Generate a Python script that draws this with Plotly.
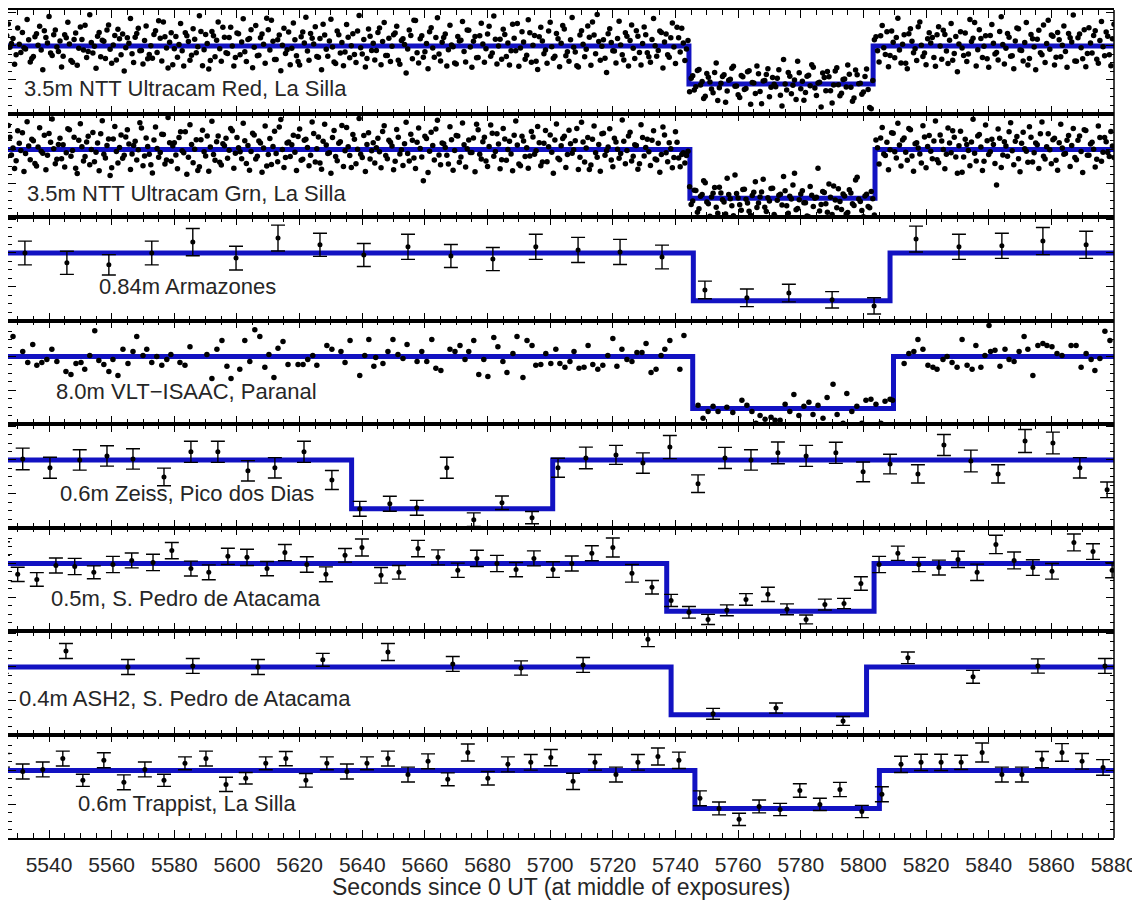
import plotly.graph_objects as go
from plotly.subplots import make_subplots

# ---------------- axis extent (seconds since 0 UT) ----------------
X_MIN, X_MAX = 5526.9, 5880.0
Y_MIN, Y_MAX = -0.99, 2.06

# ---------------- panel labels and occultation models ----------------
PANEL_LABELS = [
    "3.5m NTT Ultracam Red, La Silla",
    "3.5m NTT Ultracam Grn, La Silla",
    "0.84m Armazones",
    "8.0m VLT\u2212ISAAC, Paranal",
    "0.6m Zeiss, Pico dos Dias",
    "0.5m, S. Pedro de Atacama",
    "0.4m ASH2, S. Pedro de Atacama",
    "0.6m Trappist, La Silla",
]
DROP_TIMES = [5744.3, 5744.6, 5745.7, 5745.5, 5636.6, 5737.2, 5738.6, 5746.2]
RISE_TIMES = [5803.1, 5803.7, 5808.5, 5809.6, 5700.8, 5803.4, 5801.0, 5805.1]
BASE_LEVEL = [1.0, 1.0, 1.0, 1.0, 1.0, 1.0, 1.0, 1.0]
LOW_LEVELS = [-0.12, -0.44, -0.41, -0.53, -0.44, -0.41, -0.41, -0.12]

# ---------------- Ultracam: two interleaved readouts, 1.0 s apart each ----------------
UC_T0_A = 5524.5
UC_T0_B = 5525.0
UC_CADENCE = 1.0
ucam_red_flux_a = [
    1.12, 0.85, 1.31, 0.96, 1.22, 0.74, 1.05, 1.40, 0.91, 1.18, 0.63, 1.27, 1.02, 0.88, 1.45, 1.09, 0.79, 1.33, 0.97, 1.15,
    0.70, 1.24, 1.06, 0.52, 1.38, 0.93, 1.19, 1.61, 0.84, 1.10, 0.99, 1.29, 0.68, 1.14, 1.47, 0.90, 1.03, 0.59, 1.21, 1.35,
    0.95, 1.08, 0.77, 1.26, 1.52, 0.87, 1.16, 0.62, 1.01, 1.34, 0.81, 1.23, 1.71, 0.94, 1.11, 0.45, 1.28, 1.04, 0.86, 1.39,
    1.13, 0.73, 1.20, 0.98, 1.43, 0.89, 1.07, 0.57, 1.30, 1.17, 0.92, 1.55, 0.80, 1.25, 1.00, 0.66, 1.36, 1.12, 0.83, 1.19,
    1.48, 0.96, 0.71, 1.24, 1.05, 1.82, 0.88, 1.14, 0.60, 1.32, 1.02, 0.78, 1.41, 0.93, 1.18, 0.54, 1.27, 1.09, 0.85, 1.37,
    1.06, 0.69, 1.22, 1.64, 0.90, 1.15, 0.97, 0.48, 1.33, 1.10, 0.82, 1.26, 1.01, 0.75, 1.44, 0.95, 1.19, 0.63, 1.29, 1.08,
    0.87, 1.53, 1.13, 0.72, 1.23, 0.99, 1.38, 0.58, 1.16, 1.04, 0.91, 1.31, 1.76, 0.80, 1.21, 0.67, 1.07, 1.42, 0.94, 1.25,
    0.76, 1.11, 1.35, 0.89, 1.03, 0.50, 1.28, 1.17, 0.84, 1.47, 0.97, 1.14, 0.65, 1.30, 1.06, 0.92, 1.58, 0.79, 1.20, 1.00,
    0.61, 1.34, 1.09, 0.86, 1.23, 1.66, 0.94, 1.12, 0.73, 1.39, 1.02, 0.55, 1.27, 1.15, 0.88, 1.44, 0.98, 0.70, 1.21, 1.08,
    1.50, 0.83, 1.18, 0.96, 0.42, 1.32, 1.05, 0.90, 1.26, 1.71, 0.77, 1.13, 0.99, 0.64, 1.36, 1.10, 0.85, 1.22, 1.03, 0.59,
    1.29, 1.16, 0.93, 1.45, 0.81, 1.07, 1.33, 0.68, 1.19, 1.01, 0.87, 1.40, 1.12, 0.74, 1.24, 0.97, 1.55, 0.82, 1.09, 0.91,
    -0.35, 0.12, -0.20, 0.31, -0.05, -0.48, 0.08, -0.27, 0.22, -0.61, -0.10, 0.15, -0.33, 0.02, 0.40, -0.18, -0.52, 0.09, -0.25, 0.27,
    -0.08, -0.40, 0.18, -0.70, -0.02, 0.33, -0.22, -0.13, 0.05, -0.45, 0.60, -0.30, 0.11, -0.16, -0.58, 0.21, -0.04, -0.37, 0.14, 0.45,
    -0.24, -0.09, -0.80, 0.07, 0.25, -0.32, -0.15, 0.36, -0.47, 0.01, -0.21, 0.17, -0.63, 0.29, -0.11, -0.42, 0.10, -0.28, -0.85,
    1.18, 0.86, 1.30, 0.95, 1.42, 0.72, 1.11, 1.25, 0.88, 1.05, 0.49, 1.36, 1.14, 0.92, 1.57, 1.02, 0.79, 1.21, 1.09, 0.66, 1.33,
    1.00, 1.46, 0.85, 1.17, 0.58, 1.28, 1.06, 0.94, 1.38, 0.76, 1.13, 1.69, 0.89, 1.22, 0.99, 0.62, 1.31, 1.08, 0.81, 1.43,
    1.04, 0.93, 1.26, 0.71, 1.15, 1.51, 0.87, 1.10, 0.44, 1.34, 0.97, 1.20, 0.80, 1.62, 1.07, 0.90, 1.29, 0.67, 1.18, 1.02,
    0.84, 1.37, 1.12, 0.56, 1.24, 0.95, 1.48, 0.78, 1.09, 1.31, 0.61, 1.16, 0.98, 1.41, 0.74, 1.21,
]
ucam_red_flux_b = [
    1.42, 0.61, 1.65, 1.07, 0.46, 1.53, 0.81, 0.95, 1.78, 0.53, 0.69, 1.36, 1.58, 0.30, 1.25, 1.87, 0.72, 1.47, 0.84, 0.38,
    1.33, 1.70, 0.57, 1.19, 0.43, 1.56, 0.88, 0.66, 1.92, 0.79, 0.34, 1.40, 1.17, 0.63, 1.62, 0.49, 1.31, 1.49, 0.74, 0.26,
    1.24, 1.81, 0.51, 1.37, 0.86, 0.47, 1.59, 0.75, 0.64, 1.45, 1.74, 0.56, 1.27, 0.35, 1.39, 0.92, 0.67, 1.66, 0.41, 1.30,
    0.58, 1.51, 0.80, 1.89, 0.42, 1.34, 0.32, 1.43, 0.68, 1.71, 0.55, 1.26, 0.78, 1.55, 0.41, 1.38, 0.74, 1.80, 0.54, 1.22,
    0.36, 1.60, 0.73, 1.35, 0.49, 1.48, 1.76, 0.60, 1.18, 0.27, 1.52, 0.89, 0.45, 1.68, 0.71, 0.44, 1.41, 1.85, 0.58, 1.23,
    1.57, 0.67, 0.30, 1.32, 0.70, 1.79, 0.53, 1.44, 0.79, 0.42, 1.63, 0.65, 1.36, 0.51, 1.90, 0.76, 0.38, 1.50, 0.87, 0.59,
    1.40, 0.45, 1.69, 0.72, 0.54, 1.33, 1.58, 0.46, 1.21, 0.20, 1.47, 0.62, 1.75, 0.50, 1.30, 0.83, 0.33, 1.54, 0.67, 1.83,
    0.56, 1.25, 0.41, 1.61, 0.98, 0.47, 1.15, 1.72, 0.53, 1.46, 0.37, 1.28, 0.66, 1.67, 0.52, 1.35, 0.70, 1.88, 0.47, 1.20,
    1.49, 0.69, 0.44, 1.64, 0.86, 0.40, 1.42, 0.61, 1.77, 0.52, 1.31, 0.31, 1.55, 0.77, 0.49, 1.70, 0.64, 1.37, 0.39, 1.60,
    0.71, 0.55, 1.84, 0.82, 0.38, 1.45, 0.68, 1.59, 0.43, 1.32, 1.93, 0.58, 1.18, 0.22, 1.51, 0.86, 0.50, 1.73, 0.74, 1.39,
    0.41, 1.62, 0.63, 1.29, 0.44, 1.56, 0.80, 0.52, 1.81, 0.70, 1.44, 0.35, 1.35, 0.67, 1.68, 0.48, 1.24, 1.52, 0.57, 1.16,
    0.05, -0.30, 0.28, -0.15, -0.55, 0.19, -0.06, -0.38, 0.50, -0.23, 0.10, -0.66, -0.01, 0.34, -0.19, -0.44, 0.13, -0.28, 0.24, -0.72,
    -0.09, 0.41, -0.34, -0.03, 0.16, -0.50, 0.07, -0.20, 0.30, -0.77, -0.12, 0.22, -0.41, 0.00, 0.55, -0.26, -0.60, 0.11, -0.17, 0.37,
    -0.46, -0.07, 0.20, -0.32, 0.09, -0.68, 0.26, -0.14, -0.39, 0.03, 0.44, -0.22, -0.53, 0.15, -0.10, -0.36, 0.32, -0.81, -0.02,
    1.27, 0.53, 1.60, 0.75, 0.39, 1.44, 0.65, 1.82, 0.50, 1.33, 0.33, 1.51, 0.80, 0.57, 1.71, 0.69, 0.45, 1.39, 1.25, 0.40,
    1.57, 0.61, 1.34, 0.48, 1.66, 0.78, 0.24, 1.42, 0.72, 0.54, 1.78, 1.23, 0.41, 1.48, 0.66, 1.30, 0.37, 1.63, 0.76, 0.59,
    1.86, 0.47, 1.37, 0.70, 0.33, 1.53, 0.88, 0.56, 1.69, 0.63, 1.21, 0.30, 1.46, 0.74, 0.51, 1.76, 1.32, 0.44, 1.40, 0.68,
    1.59, 0.37, 1.24, 1.91, 0.55, 1.35, 0.62, 0.39, 1.54, 0.79, 1.45, 0.49, 1.72, 0.71, 1.29, 0.42, 1.64,
]
ucam_grn_flux_a = [
    0.92, 1.25, 0.80, 1.36, 1.04, 0.67, 1.18, 1.49, 0.88, 1.10, 1.30, 0.59, 1.07, 0.95, 1.42, 0.83, 1.21, 1.02, 0.71, 1.33,
    1.14, 0.90, 1.58, 0.97, 0.45, 1.27, 1.08, 0.79, 1.39, 1.00, 0.64, 1.19, 1.46, 0.86, 1.12, 0.23, 1.31, 0.94, 1.06, 0.74,
    1.37, 1.16, 0.87, 1.24, 0.99, 1.63, 0.81, 1.09, 0.55, 1.28, 1.03, 0.91, 1.44, 0.69, 1.20, 1.11, 0.84, 1.35, 0.96, 1.52,
    0.77, 1.15, 1.01, 0.38, 1.29, 0.93, 1.40, 1.07, 0.85, 1.23, 0.62, 1.17, 1.33, 0.98, 1.55, 0.89, 1.05, 0.73, 1.26, 1.12,
    0.94, 1.43, 0.80, 1.19, 1.04, 0.51, 1.32, 1.09, 0.88, 1.66, 1.00, 0.76, 1.22, 1.14, 0.92, 1.38, 0.68, 1.27, 1.06, 0.83,
    1.47, 1.02, 0.60, 1.24, 1.13, 0.90, 1.35, 0.79, 1.18, 1.71, 0.96, 1.08, 0.47, 1.30, 1.01, 0.86, 1.41, 1.15, 0.72, 1.20,
    1.05, 0.93, 1.53, 0.82, 1.27, 1.10, 0.65, 1.36, 0.99, 1.17, 0.88, 1.45, 0.75, 1.21, 1.03, 0.08, 1.32, 0.95, 1.12, 1.60,
    0.84, 1.19, 1.06, 0.57, 1.29, 0.97, 1.40, 0.78, 1.14, 1.02, 0.91, 1.34, 1.74, 0.86, 1.23, 0.66, 1.09, 1.48, 0.94, 1.16,
    0.70, 1.31, 1.00, 0.87, 1.42, 1.13, 0.52, 1.25, 1.05, 0.81, 1.37, 0.96, 1.20, 0.63, 1.56, 1.08, 0.92, 1.28, 0.74, 1.11,
    1.39, 0.85, 1.17, 0.99, 1.62, 0.77, 1.22, 1.04, 0.41, 1.30, 0.90, 1.15, 1.46, 0.83, 1.07, 0.69, 1.33, 1.01, 0.88, 1.24,
    0.97, 1.51, 0.80, 1.12, 0.58, 1.35, 1.06, 0.93, 1.27, 0.72, 1.18, 0.85, 1.43, 0.64, 1.02, 0.76, 1.21, 0.49, 0.90, 0.82,
    -0.10, -0.52, -0.21, -0.75, -0.33, 0.02, -0.60, -0.40, -0.12, -0.88, -0.28, -0.55, 0.15, -0.45, -0.95, -0.30, -0.63, -0.18, -0.47, -0.82,
    -0.36, 0.05, -0.58, -0.25, -0.70, -0.42, -0.15, -0.92, -0.50, -0.32, 0.20, -0.66, -0.38, -0.05, -0.78, -0.48, -0.22, -0.57, -0.98, -0.35,
    -0.44, 0.45, -0.62, -0.27, -0.85, -0.41, -0.08, -0.72, -0.53, -0.31, -0.90, -0.19, -0.60, 0.10, -0.46, -0.80, -0.37, -0.68, -0.24, -0.93,
    1.05, 1.34, 0.87, 1.21, 0.99, 1.48, 0.75, 1.13, 1.28, 0.92, 1.62, 0.81, 1.17, 1.04, 0.60, 1.37, 1.09, 0.95, 1.25, 0.70,
    1.43, 1.00, 0.86, 1.19, 1.55, 0.78, 1.11, 0.33, 1.30, 0.97, 1.22, 0.89, 1.40, 1.07, 0.65, 1.26, 0.93, 1.15, -0.05, 1.33,
    0.84, 1.10, 1.52, 0.96, 1.24, 0.73, 1.18, 1.02, 0.62, 1.36, 0.90, 1.14, 1.46, 0.80, 1.08, 0.99, 1.29, 0.68, 1.20, 1.04,
    0.88, 1.41, 1.12, 0.76, 1.27, 0.94, 1.58, 0.83, 1.16, 1.01, 0.71, 1.35, 0.92, 1.23, 0.79, 1.10,
]
ucam_grn_flux_b = [
    1.38, 0.62, 1.71, 0.84, 0.44, 1.55, 0.97, 0.35, 1.82, 0.70, 1.26, 0.51, 1.64, 0.89, 0.40, 1.47, 1.90, 0.58, 1.15, 0.73,
    0.48, 1.61, 0.80, 1.36, 0.29, 1.76, 0.66, 1.22, 0.55, 1.50, 0.92, 0.37, 1.85, 0.75, 1.31, 0.46, 1.68, 0.60, 1.43, 0.83,
    1.58, 0.41, 1.12, 0.69, 1.79, 0.52, 1.34, 0.86, 0.31, 1.66, 0.77, 1.45, 0.57, 1.94, 0.65, 1.20, 0.43, 1.52, 0.90, 0.27,
    1.73, 0.61, 1.29, 0.49, 1.57, 0.81, 0.36, 1.83, 0.68, 1.40, 0.54, 1.11, 0.74, 1.62, 0.45, 1.35, 0.93, 1.77, 0.59, 0.39,
    1.48, 0.72, 1.25, 0.33, 1.69, 0.85, 0.56, 1.54, 0.64, 1.88, 0.47, 1.19, 0.79, 1.42, 0.38, 1.60, 0.71, 1.30, 0.52, 1.81,
    0.63, 1.37, 0.42, 1.74, 0.88, 0.30, 1.56, 0.67, 1.23, 0.50, 1.65, 0.82, 1.44, 0.58, 1.91, 0.76, 0.35, 1.49, 0.96, 0.60,
    1.33, 0.46, 1.70, 0.73, 1.21, 0.40, 1.59, 0.87, 0.53, 1.80, 0.66, 1.27, 0.44, 1.63, 0.78, 1.39, 0.32, 1.51, 0.69, 1.86,
    0.55, 1.17, 0.83, 1.67, 0.39, 1.41, 0.62, 1.78, 0.48, 1.28, 0.91, 0.34, 1.58, 0.72, 1.36, 0.50, 1.72, 0.80, 1.46, 0.43,
    1.62, 0.68, 1.24, 0.37, 1.84, 0.57, 1.39, 0.79, 0.45, 1.53, 0.86, 1.68, 0.52, 1.18, 0.64, 1.43, 0.30, 1.75, 0.70, 1.32,
    0.47, 1.57, 0.89, 1.26, 0.41, 1.80, 0.63, 1.35, 0.54, 1.69, 0.77, 0.36, 1.48, 0.96, 1.61, 0.49, 1.22, 0.74, 1.87, 0.58,
    1.40, 0.66, 1.14, 0.42, 1.73, 0.81, 1.30, 0.53, 1.55, 0.69, 0.33, 1.66, 0.90, 1.20, 0.46, 1.52, 0.75, 0.85, 0.60, 0.95,
    -0.62, -0.20, -0.85, -0.38, 0.08, -0.55, -0.97, -0.29, -0.70, -0.11, -0.48, -0.90, -0.33, -0.66, 0.25, -0.43, -0.79, -0.17, -0.58, -0.94,
    -0.26, -0.71, -0.40, 0.12, -0.83, -0.52, -0.14, -0.99, -0.35, -0.64, -0.22, -0.88, -0.46, 0.30, -0.74, -0.31, -0.57, -0.96, -0.09, -0.68,
    -0.41, -0.81, -0.24, -0.60, -0.02, -0.92, -0.49, -0.16, -0.77, -0.37, -0.86, -0.28, -0.65, 0.18, -0.53, -0.98, -0.32, -0.72, -0.45,
    1.28, 0.57, 1.65, 0.82, 0.40, 1.49, 0.93, 1.77, 0.51, 1.34, 0.68, 1.58, 0.36, 1.20, 0.87, 1.70, 0.46, 1.41, 0.73, 1.84,
    0.61, 1.25, 0.43, 1.63, 0.90, 1.36, 0.30, 1.54, 0.78, 1.15, 0.52, 1.89, 0.66, 1.44, 0.38, 1.72, 0.85, 1.30, 0.59, 1.60,
    0.47, 1.23, 0.80, 1.79, 0.55, 1.38, 0.34, 1.51, 0.95, 1.67, 0.63, 1.19, 0.44, 1.81, 0.72, 1.46, 0.58, 1.33, 0.39, 1.74,
    0.86, 1.27, 0.50, 1.62, 0.70, 1.40, 0.32, 1.56, 0.83, 1.21, 0.48, 1.69, 0.65, 1.35, 0.91, 1.53, 0.76,
]

# ---------------- 0.84m Armazones ----------------
arm_t = [5532.3, 5545.7, 5559.1, 5572.8, 5585.9, 5599.7, 5613.1, 5626.5, 5640.5, 5654.6, 5668.3, 5681.7, 5695.4,
         5708.9, 5722.3, 5735.7, 5749.4, 5762.8, 5776.2, 5790.0, 5803.4, 5816.8, 5830.5, 5844.2, 5857.3, 5871.1]
arm_f = [1.00, 0.71, 0.65, 1.00, 1.32, 0.85, 1.44, 1.24, 0.94, 1.18, 0.91, 0.82, 1.18,
         1.09, 1.03, 0.88, -0.09, -0.32, -0.18, -0.38, -0.56, 1.41, 1.18, 1.21, 1.35, 1.24]
arm_e = [0.35, 0.34, 0.30, 0.35, 0.40, 0.35, 0.38, 0.34, 0.34, 0.37, 0.34, 0.34, 0.37,
         0.37, 0.37, 0.35, 0.26, 0.26, 0.26, 0.24, 0.24, 0.38, 0.37, 0.37, 0.40, 0.40]

# ---------------- 8.0m VLT-ISAAC ----------------
vlt_t = [5524.3, 5528.5, 5531.6, 5533.2, 5534.8, 5536.1, 5537.7, 5539.3, 5540.9, 5542.5, 5545.4, 5547.0, 5548.6,
         5550.2, 5551.4, 5553.0, 5554.6, 5555.9, 5557.5, 5559.1, 5560.4, 5562.0, 5563.6, 5565.2, 5566.8, 5568.0,
         5570.0, 5571.2, 5572.8, 5574.4, 5576.0, 5577.6, 5578.9, 5581.8, 5583.4, 5585.0, 5590.4, 5592.0, 5593.6,
         5595.2, 5596.8, 5598.1, 5600.9, 5602.5, 5604.1, 5605.7, 5607.3, 5608.9, 5610.2, 5611.8, 5613.1, 5614.7,
         5616.3, 5619.5, 5621.1, 5622.6, 5624.2, 5625.5, 5628.7, 5630.3, 5633.2, 5634.5, 5636.1, 5639.2, 5640.8,
         5642.1, 5643.7, 5644.3, 5646.6, 5648.2, 5649.8, 5651.4, 5653.0, 5654.3, 5657.5, 5659.0, 5660.6, 5662.2,
         5663.5, 5665.1, 5668.0, 5669.6, 5671.2, 5672.8, 5674.0, 5675.6, 5677.2, 5678.8, 5680.1, 5682.0, 5683.3,
         5684.9, 5686.2, 5688.1, 5689.4, 5691.3, 5692.6, 5694.2, 5695.4, 5697.0, 5698.6, 5700.2, 5701.8, 5703.1,
         5704.7, 5706.3, 5707.6, 5709.2, 5710.8, 5712.1, 5713.6, 5715.2, 5716.8, 5718.4, 5720.0, 5721.3, 5722.9,
         5724.5, 5726.1, 5727.7, 5729.3, 5730.6, 5732.2, 5733.8, 5735.4, 5736.6, 5738.2, 5741.4, 5742.7,
         5747.2, 5748.8, 5750.4, 5752.0, 5753.6, 5756.4, 5758.3, 5761.2, 5762.8, 5764.4, 5765.7, 5767.0, 5768.6,
         5770.5, 5771.8, 5773.4, 5775.0, 5776.5, 5777.8, 5779.4, 5781.0, 5782.6, 5783.9, 5785.5, 5787.1, 5788.4,
         5790.3, 5791.6, 5793.5, 5794.7, 5796.3, 5797.9, 5799.5, 5800.8, 5802.4, 5804.0, 5805.6, 5806.9, 5808.5,
         5809.3, 5813.0, 5814.5, 5816.1, 5817.4, 5819.0, 5820.6, 5822.2, 5823.5, 5825.4, 5826.7, 5828.3, 5829.9,
         5831.5, 5833.1, 5834.7, 5835.9, 5837.5, 5838.8, 5840.1, 5840.6, 5842.0, 5843.6, 5845.2, 5846.5, 5848.1,
         5849.7, 5851.3, 5852.5, 5854.1, 5855.7, 5857.3, 5858.6, 5860.2, 5861.8, 5863.4, 5866.3, 5867.9, 5869.5,
         5871.1, 5872.7, 5873.9, 5875.5, 5877.1, 5878.7]
vlt_f = [0.71, 1.59, 1.15, 0.82, 1.35, 0.74, 0.82, 0.91, 1.21, 0.85, 0.56, 0.47, 0.79,
         0.82, 0.62, 1.03, 1.76, 0.88, 0.76, 0.56, 0.91, 0.44, 1.21, 0.79, 1.15, 1.59,
         1.03, 1.21, 0.82, 1.00, 0.74, 0.91, 1.06, 0.82, 0.74, 1.29, 1.06, 0.35, 1.21,
         1.47, 0.71, 0.35, 0.62, 1.47, 0.85, 1.79, 1.59, 0.68, 1.06, 0.38, 1.24, 1.44,
         0.76, 0.76, 0.76, 0.91, 1.03, 0.74, 1.32, 1.21, 1.15, 0.82, 1.47, 0.44, 1.03,
         1.50, 0.71, 0.97, 0.79, 1.15, 1.50, 1.06, 0.94, 1.35, 0.85, 1.15, 0.85, 1.50,
         0.65, 0.59, 1.21, 1.15, 1.32, 0.91, 1.15, 1.47, 0.47, 0.91, 0.41, 1.56, 1.29,
         0.85, 0.53, 1.09, 1.59, 0.38, 1.47, 1.32, 0.74, 0.76, 1.09, 0.79, 1.21, 0.79,
         0.68, 0.85, 1.15, 0.65, 0.68, 1.32, 0.76, 0.62, 0.74, 1.03, 1.53, 0.71, 1.21,
         0.91, 0.85, 1.12, 1.12, 1.38, 0.53, 0.62, 1.03, 1.21, 1.47, 0.62, 1.62,
         -0.44, -0.82, -0.62, -0.47, -0.62, -0.50, -0.65, -0.29, -0.44, -0.62, -0.97, -0.74, -0.85,
         -0.79, -0.88, -0.88, -0.41, -0.62, -0.12, -0.74, -0.47, -0.35, -0.71, -0.44, -0.82, -0.21,
         0.18, -0.71, -0.97, -0.09, -0.62, -0.47, -0.97, -0.29, -0.26, -0.41, -0.97, -0.32, -0.26,
         -0.29, 0.79, 1.09, 1.15, 1.50, 1.21, 0.74, 0.68, 0.62, 0.91, 1.00, 0.82, 0.68,
         1.50, 0.74, 0.62, 1.32, 0.68, 1.03, 1.91, 1.15, 1.18, 0.71, 1.21, 0.91, 0.85,
         1.15, 1.59, 1.21, 0.44, 1.32, 1.38, 1.32, 1.29, 1.09, 1.03, 1.32, 1.32, 0.68,
         1.09, 0.91, 0.59, 0.94, 1.74, 1.47]

# ---------------- 0.6m Zeiss, Pico dos Dias ----------------
zeiss_t = [5531.6, 5540.3, 5549.8, 5558.5, 5566.8, 5576.7, 5585.3, 5593.9, 5603.5, 5612.1, 5621.4, 5630.3, 5639.2,
           5648.8, 5657.4, 5667.0, 5675.6, 5684.6, 5694.2, 5702.5, 5711.4, 5721.0, 5729.6, 5738.2, 5747.2, 5755.8,
           5764.1, 5772.7, 5781.7, 5791.2, 5799.9, 5808.5, 5817.4, 5825.7, 5834.3, 5843.0, 5851.6, 5860.5, 5869.1, 5877.8]
zeiss_f = [1.03, 0.77, 1.00, 1.12, 1.03, 0.50, 1.24, 1.24, 0.68, 0.77, 1.24, 0.41, -0.44,
           -0.29, -0.41, 0.77, -0.76, -0.26, -0.70, 0.77, 1.06, 1.15, 0.91, 1.38, 0.30, 1.06,
           1.00, 1.21, 1.12, 1.21, 0.65, 0.88, 0.59, 1.44, 0.97, 0.59, 1.56, 1.50, 0.77, 0.12]
zeiss_e = [0.32, 0.31, 0.30, 0.30, 0.30, 0.26, 0.31, 0.31, 0.30, 0.30, 0.31, 0.28, 0.22,
           0.22, 0.22, 0.31, 0.20, 0.20, 0.18, 0.28, 0.32, 0.28, 0.30, 0.34, 0.26, 0.31,
           0.30, 0.32, 0.31, 0.31, 0.29, 0.29, 0.27, 0.31, 0.32, 0.27, 0.34, 0.32, 0.30, 0.23]

# ---------------- 0.5m, S. Pedro de Atacama ----------------
spa_t = [5525.3, 5530.0, 5536.1, 5542.2, 5548.2, 5554.3, 5560.4, 5566.4, 5573.2, 5579.2,
         5585.3, 5591.0, 5597.1, 5603.2, 5609.6, 5615.3, 5622.3, 5628.4, 5634.5, 5639.9,
         5646.0, 5651.7, 5657.8, 5664.2, 5670.5, 5676.6, 5683.0, 5689.1, 5694.8, 5700.9,
         5706.9, 5713.3, 5720.0, 5726.1, 5732.5, 5738.6, 5744.3, 5750.4, 5756.4, 5762.5,
         5769.5, 5775.6, 5781.7, 5787.7, 5793.8, 5799.2, 5805.0, 5811.0, 5817.7, 5824.1,
         5830.2, 5836.3, 5842.3, 5848.1, 5854.1, 5860.2, 5867.2, 5873.3, 5879.4]
spa_f = [1.44, 0.68, 0.53, 0.94, 0.91, 0.74, 0.97, 1.09, 1.03, 1.38,
         0.85, 0.74, 1.21, 1.18, 0.85, 1.32, 0.97, 0.68, 1.24, 1.47,
         0.65, 0.74, 1.44, 1.18, 0.80, 1.15, 1.00, 0.82, 1.15, 0.82,
         1.00, 1.30, 1.47, 0.71, 0.30, -0.09, -0.44, -0.65, -0.38, -0.06,
         0.09, -0.35, -0.65, -0.21, -0.18, 0.41, 0.97, 1.30, 0.97, 0.88,
         1.12, 0.74, 1.56, 1.09, 0.88, 0.77, 1.62, 1.35, 0.80]
spa_e = [0.20, 0.21, 0.20, 0.22, 0.24, 0.19, 0.24, 0.22, 0.24, 0.24,
         0.22, 0.22, 0.24, 0.24, 0.21, 0.24, 0.23, 0.22, 0.20, 0.25,
         0.23, 0.20, 0.24, 0.22, 0.21, 0.24, 0.24, 0.21, 0.22, 0.23,
         0.22, 0.22, 0.28, 0.26, 0.20, 0.18, 0.17, 0.15, 0.16, 0.17,
         0.21, 0.16, 0.13, 0.16, 0.15, 0.20, 0.24, 0.21, 0.21, 0.22,
         0.24, 0.24, 0.27, 0.25, 0.23, 0.23, 0.25, 0.23, 0.22]

# ---------------- 0.4m ASH2, S. Pedro de Atacama ----------------
ash_t = [5524.9, 5545.4, 5565.2, 5585.9, 5606.7, 5627.4, 5648.2, 5668.9, 5690.7, 5710.5, 5731.2,
         5752.0, 5772.1, 5793.5, 5814.2, 5835.0, 5855.7, 5877.1]
ash_f = [1.03, 1.47, 1.00, 1.03, 1.00, 1.21, 1.44, 1.09, 0.97, 1.06, 1.82,
         -0.38, -0.21, -0.59, 1.27, 0.71, 1.03, 1.03]
ash_e = [0.22, 0.22, 0.22, 0.22, 0.22, 0.19, 0.25, 0.22, 0.21, 0.22, 0.22,
         0.16, 0.15, 0.13, 0.17, 0.19, 0.21, 0.22]

# ---------------- 0.6m Trappist, La Silla ----------------
trap_t = [5525.3, 5531.6, 5538.0, 5544.4, 5550.8, 5557.5, 5563.9, 5570.6, 5576.7, 5583.4, 5590.1,
          5596.5, 5602.8, 5609.2, 5615.6, 5622.0, 5628.7, 5635.1, 5641.5, 5648.2, 5654.6, 5661.0,
          5667.3, 5673.7, 5680.1, 5686.5, 5693.8, 5700.2, 5707.3, 5714.3, 5721.0, 5728.0, 5734.4,
          5741.1, 5747.8, 5753.9, 5760.3, 5766.7, 5773.4, 5779.7, 5786.1, 5792.5, 5799.5, 5805.9,
          5812.0, 5818.4, 5824.8, 5831.2, 5837.9, 5844.2, 5850.6, 5857.0, 5863.4, 5869.8, 5876.5]
trap_f = [1.30, 0.97, 1.03, 1.35, 0.71, 1.30, 0.65, 1.03, 0.71, 1.21, 1.35,
          0.59, 0.77, 1.21, 1.35, 0.71, 1.21, 0.97, 1.21, 1.35, 0.88, 1.27,
          0.74, 1.53, 0.77, 1.18, 1.24, 1.38, 0.68, 1.24, 0.88, 1.24, 1.41,
          1.30, 0.18, -0.12, -0.44, -0.06, -0.15, 0.41, 0.00, 0.44, -0.21, 0.30,
          1.18, 1.24, 1.24, 1.24, 1.53, 0.88, 0.88, 1.32, 1.53, 1.27, 1.09]
trap_e = [0.20, 0.22, 0.22, 0.22, 0.18, 0.22, 0.22, 0.22, 0.18, 0.19, 0.22,
          0.21, 0.17, 0.19, 0.21, 0.20, 0.19, 0.22, 0.19, 0.22, 0.22, 0.22,
          0.19, 0.25, 0.20, 0.22, 0.23, 0.24, 0.24, 0.23, 0.22, 0.23, 0.25,
          0.24, 0.22, 0.19, 0.18, 0.19, 0.18, 0.20, 0.18, 0.21, 0.18, 0.22,
          0.24, 0.24, 0.24, 0.21, 0.28, 0.22, 0.22, 0.24, 0.26, 0.23, 0.23]

# ======================================================================
ucam_t_a = [UC_T0_A + i * UC_CADENCE for i in range(len(ucam_red_flux_a))]
ucam_t_b = [UC_T0_B + i * UC_CADENCE for i in range(len(ucam_red_flux_b))]

BLACK = "#000000"
BLUE = "#1212c2"
TEXT = "#262626"
FONT = "Liberation Sans, Arial, sans-serif"

fig = make_subplots(rows=8, cols=1, shared_xaxes=True, vertical_spacing=0.0)

for k in range(8):
    fig.add_trace(go.Scatter(
        x=[X_MIN, DROP_TIMES[k], RISE_TIMES[k], X_MAX],
        y=[BASE_LEVEL[k], LOW_LEVELS[k], BASE_LEVEL[k], BASE_LEVEL[k]],
        mode="lines", line=dict(color=BLUE, width=5, shape="hv"),
        hoverinfo="skip", showlegend=False), row=k + 1, col=1)


def dots(x, y, row, size):
    fig.add_trace(go.Scatter(x=x, y=y, mode="markers",
                             marker=dict(color=BLACK, size=size, line=dict(width=0)),
                             showlegend=False), row=row, col=1)


def errdots(x, y, e, row):
    fig.add_trace(go.Scatter(x=x, y=y, mode="markers",
                             marker=dict(color=BLACK, size=5, line=dict(width=0)),
                             error_y=dict(type="data", array=e, visible=True,
                                          color=BLACK, thickness=1.4, width=7),
                             showlegend=False), row=row, col=1)


dots(ucam_t_a, ucam_red_flux_a, 1, 5.5)
dots(ucam_t_b, ucam_red_flux_b, 1, 5.5)
dots(ucam_t_a, ucam_grn_flux_a, 2, 5.5)
dots(ucam_t_b, ucam_grn_flux_b, 2, 5.5)
errdots(arm_t, arm_f, arm_e, 3)
dots(vlt_t, vlt_f, 4, 5.5)
errdots(zeiss_t, zeiss_f, zeiss_e, 5)
errdots(spa_t, spa_f, spa_e, 6)
errdots(ash_t, ash_f, ash_e, 7)
errdots(trap_t, trap_f, trap_e, 8)

# labels inside panels (data coords of each panel)
LABEL_X = [5531.3, 5532.3, 5555.3, 5541.5, 5542.8, 5540.0, 5529.7, 5548.6]
LABEL_Y = [-0.26, -0.29, 0.00, -0.03, 0.00, -0.03, 0.06, 0.03]
for k in range(8):
    sfx = "" if k == 0 else str(k + 1)
    fig.add_annotation(x=LABEL_X[k], y=LABEL_Y[k], xref="x" + sfx, yref="y" + sfx,
                       text=PANEL_LABELS[k], showarrow=False, xanchor="left", yanchor="middle",
                       font=dict(family=FONT, size=22, color=TEXT))

# x-axis title
fig.add_annotation(x=0.5, y=-0.059, xref="paper", yref="paper",
                   text="Seconds since 0 UT (at middle of exposures)", showarrow=False,
                   xanchor="center", yanchor="middle",
                   font=dict(family=FONT, size=23, color=TEXT))

fig.update_xaxes(range=[X_MIN, X_MAX], showgrid=False, zeroline=False,
                 showline=True, linecolor=BLACK, linewidth=1.5, mirror="ticks",
                 ticks="inside", ticklen=8, tickwidth=1.4, tickcolor=BLACK,
                 tick0=5520, dtick=20,
                 minor=dict(ticks="inside", ticklen=5, tickwidth=1.3, tickcolor=BLACK, dtick=5, showgrid=False),
                 tickfont=dict(family=FONT, size=21, color=TEXT))
fig.update_xaxes(ticklabelstandoff=7, row=8, col=1)
fig.update_yaxes(range=[Y_MIN, Y_MAX], showgrid=False, zeroline=False, showticklabels=False,
                 showline=False, mirror="ticks",
                 ticks="inside", ticklen=8, tickwidth=1.3, tickcolor=BLACK,
                 tick0=0, dtick=1,
                 minor=dict(ticks="inside", ticklen=4, tickwidth=1.2, tickcolor=BLACK, dtick=0.25, showgrid=False))

fig.add_shape(type="line", xref="paper", yref="paper", x0=1, x1=1, y0=0, y1=1,
              line=dict(color=BLACK, width=1.5))

# page body adds an 8 px offset; the figure is sized so the plot frame lands where the reference has it
fig.update_layout(width=1132, height=892, margin=dict(l=0, r=26, t=0, b=62),
                  paper_bgcolor="white", plot_bgcolor="white", showlegend=False,
                  font=dict(family=FONT, color=TEXT))

fig.write_html("out.html")
